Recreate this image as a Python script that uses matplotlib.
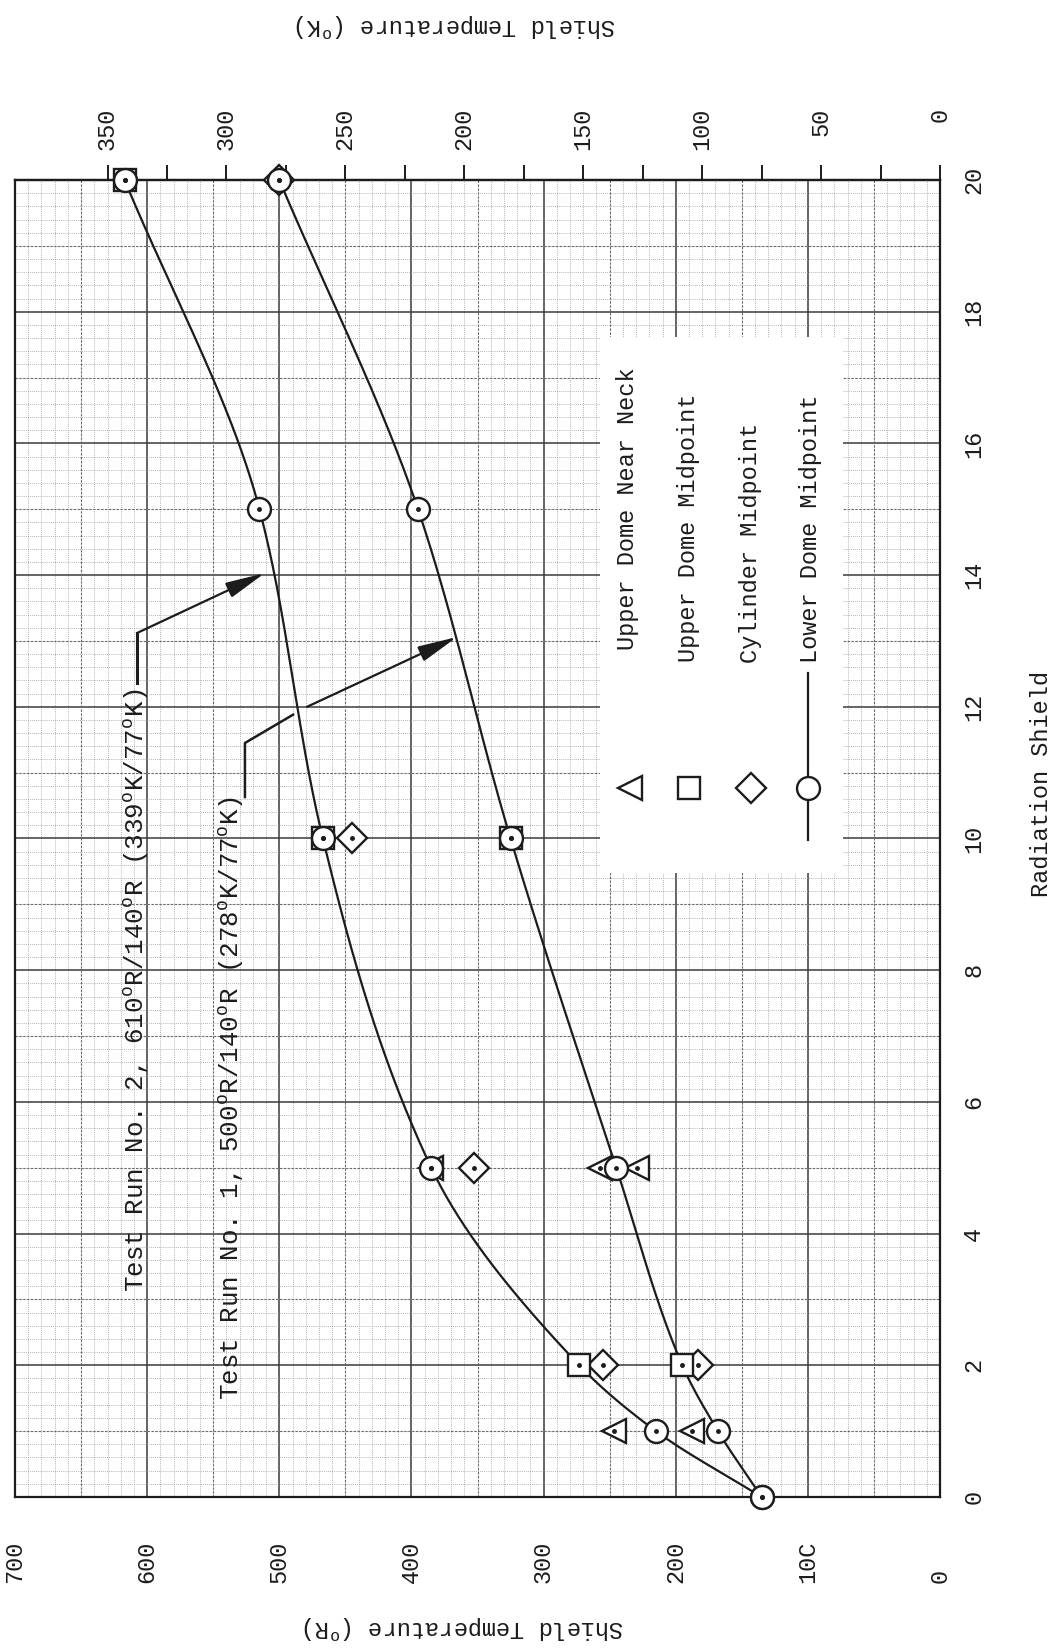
import numpy as np
import matplotlib
matplotlib.use("Agg")
from matplotlib import pyplot as plt
from matplotlib.patches import Rectangle

# values (shield number vs temperature in deg R)
shield_pts = [0, 1, 2, 5, 10, 15, 20]
run2_curve = [135, 215, 273, 385, 467, 515, 617]
run1_curve = [135, 168, 195, 245, 325, 395, 500]

# run 2 (610R/140R) measured points
run2_neck_s = [1, 5]
run2_neck_T = [247, 385]
run2_udome_s = [2, 10, 20]
run2_udome_T = [273, 467, 617]
run2_cyl_s = [2, 5, 10]
run2_cyl_T = [255, 353, 445]
run2_ldome_s = [0, 1, 5, 10, 15, 20]
run2_ldome_T = [135, 215, 385, 467, 515, 617]

# run 1 (500R/140R) measured points
run1_neck_s = [1, 5, 5]
run1_neck_T = [188, 257, 229]
run1_udome_s = [2, 10]
run1_udome_T = [195, 325]
run1_cyl_s = [2, 20]
run1_cyl_T = [183, 500]
run1_ldome_s = [0, 1, 5, 10, 15, 20]
run1_ldome_T = [135, 168, 245, 325, 395, 500]

R_ticks = [0, 100, 200, 300, 400, 500, 600, 700]
R_labels = ["0", "10C", "200", "300", "400", "500", "600", "700"]
K_ticks = list(range(0, 351, 25))
shield_ticks = list(range(0, 21, 2))

legend_names = ["Upper Dome Near Neck", "Upper Dome Midpoint",
                "Cylinder Midpoint", "Lower Dome Midpoint"]

run2_text = r"Test Run No. 2, 610$^{\mathrm{o}}$R/140$^{\mathrm{o}}$R (339$^{\mathrm{o}}$K/77$^{\mathrm{o}}$K)"
run1_text = r"Test Run No. 1, 500$^{\mathrm{o}}$R/140$^{\mathrm{o}}$R (278$^{\mathrm{o}}$K/77$^{\mathrm{o}}$K)"

INK = "#1c1c1c"
FS = 17

plt.rcParams["font.family"] = ["Liberation Mono", "DejaVu Sans Mono"]
plt.rcParams["mathtext.fontset"] = "custom"
plt.rcParams["mathtext.rm"] = "Liberation Mono"
plt.rcParams["mathtext.it"] = "Liberation Mono"
plt.rcParams["text.color"] = INK


def pchip(x, y, xs):
    # monotone cubic, only used to draw the hand-drawn looking curve
    x = np.asarray(x, float)
    y = np.asarray(y, float)
    h = np.diff(x)
    d = np.diff(y) / h
    m = np.zeros_like(y)
    for k in range(1, len(x) - 1):
        if d[k - 1] * d[k] > 0:
            w1 = 2 * h[k] + h[k - 1]
            w2 = h[k] + 2 * h[k - 1]
            m[k] = (w1 + w2) / (w1 / d[k - 1] + w2 / d[k])
    m[0] = d[0]
    m[-1] = d[-1]
    out = []
    for v in xs:
        k = min(np.searchsorted(x, v, side="right") - 1, len(x) - 2)
        t = (v - x[k]) / h[k]
        h00 = 2 * t**3 - 3 * t**2 + 1
        h10 = t**3 - 2 * t**2 + t
        h01 = -2 * t**3 + 3 * t**2
        h11 = t**3 - t**2
        out.append(h00 * y[k] + h10 * h[k] * m[k] + h01 * y[k + 1] + h11 * h[k] * m[k + 1])
    return np.array(out)


fig = plt.figure(figsize=(10.6, 16.5), dpi=100)
ax = fig.add_axes([15 / 1060, 1 - 1497 / 1650, 925 / 1060, 1317 / 1650])
ax.set_xlim(700, 0)
ax.set_ylim(0, 20)
ax.set_axisbelow(True)

# graph paper
ax.set_xticks(np.arange(0, 701, 10), minor=True)
ax.set_yticks(np.arange(0, 20.01, 0.2), minor=True)
ax.grid(which="minor", color="#9a9a9a", lw=0.6, ls=(0, (1, 1.5)))
ax.grid(which="major", color="#3a3a3a", lw=1.1, ls="-")
for v in np.arange(50, 700, 100):
    ax.axvline(v, color="#6a6a6a", lw=0.8, ls=(0, (2, 1.5)), zorder=0.6)
for v in np.arange(1, 20, 2):
    ax.axhline(v, color="#6a6a6a", lw=0.8, ls=(0, (2, 1.5)), zorder=0.6)

for sp in ax.spines.values():
    sp.set_linewidth(1.6)
    sp.set_color(INK)

# bottom deg R labels
ax.set_xticks(R_ticks)
ax.set_xticklabels(R_labels, rotation=90, va="bottom", fontsize=FS)
ax.tick_params(axis="x", which="both", length=0, pad=62, colors=INK)

# right shield labels
ax.yaxis.tick_right()
ax.set_yticks(shield_ticks)
ax.set_yticklabels([str(v) for v in shield_ticks], rotation=90, va="center", fontsize=FS)
ax.tick_params(axis="y", which="both", length=0, pad=16, colors=INK)

# top deg K axis
secax = ax.secondary_xaxis("top", functions=(lambda r: r / 1.8, lambda k: k * 1.8))
secax.set_xticks(K_ticks)
secax.set_xticklabels([str(k) if k % 50 == 0 else "" for k in K_ticks],
                      rotation=90, va="top", fontsize=FS)
secax.tick_params(axis="x", length=10.8, width=1.4, direction="out", pad=41, colors=INK)
secax.spines["top"].set_linewidth(1.6)

# curves
s_dense = np.linspace(0, 20, 400)
for curve in (run2_curve, run1_curve):
    ax.plot(pchip(shield_pts, curve, s_dense), s_dense, color=INK, lw=1.6, zorder=3)

mk = dict(mfc="white", mec=INK, mew=1.7, ls="none", clip_on=False)
for cs, cT, ns, nT in ((run2_cyl_s, run2_cyl_T, run2_neck_s, run2_neck_T),
                       (run1_cyl_s, run1_cyl_T, run1_neck_s, run1_neck_T)):
    ax.plot(cT, cs, marker="D", ms=15.5, zorder=4, **mk)
    ax.plot(nT, ns, marker="<", ms=17, zorder=4.2, **mk)
for us, uT in ((run2_udome_s, run2_udome_T), (run1_udome_s, run1_udome_T)):
    ax.plot(uT, us, marker="s", ms=16.5, zorder=5, **mk)
for ls_, lT in ((run2_ldome_s, run2_ldome_T), (run1_ldome_s, run1_ldome_T)):
    ax.plot(lT, ls_, marker="o", ms=16.5, zorder=6, **mk)

all_T = run2_neck_T + run2_udome_T + run2_cyl_T + run2_ldome_T + run1_neck_T + run1_udome_T + run1_cyl_T + run1_ldome_T
all_s = run2_neck_s + run2_udome_s + run2_cyl_s + run2_ldome_s + run1_neck_s + run1_udome_s + run1_cyl_s + run1_ldome_s
ax.plot(all_T, all_s, ls="none", marker="o", ms=2.5, color=INK, zorder=7, clip_on=False)

# run labels and arrows
ax.text(608, 3.11, run2_text, rotation=90, ha="center", va="bottom", fontsize=18.6)
ax.text(536, 1.47, run1_text, rotation=90, ha="center", va="bottom", fontsize=18.6)

arrow = dict(arrowstyle="-|>,head_length=1.1,head_width=0.22", color=INK, lw=1.6,
             mutation_scale=22, shrinkA=0, shrinkB=0)
ax.plot([607.7, 607.7], [12.36, 13.12], color=INK, lw=2.2, zorder=3)
ax.annotate("", xy=(511, 14.03), xytext=(607.7, 13.12), arrowprops=arrow, zorder=3)
ax.plot([526, 526, 489.6], [10.63, 11.45, 11.88], color=INK, lw=1.8, zorder=3)
ax.annotate("", xy=(365.5, 13.06), xytext=(479, 12.0), arrowprops=arrow, zorder=3)

# legend (drawn by hand, rotated like the page)
ax.add_patch(Rectangle((0.6324, 0.4738), 0.8951 - 0.6324, 0.8808 - 0.4738,
                       transform=ax.transAxes, facecolor="white", edgecolor="none", zorder=2))
leg_x = [0.6649, 0.7286, 0.7957, 0.8573]
leg_tx = [0.6627, 0.7276, 0.7946, 0.8595]
leg_ty = [0.6431, 0.6340, 0.6333, 0.6333]
leg_mk = ["<", "s", "D", "o"]
leg_ms = [17, 16.5, 15.5, 16.5]
ax.plot([leg_x[3], leg_x[3]], [0.4989, 0.6257], color=INK, lw=1.6, transform=ax.transAxes, zorder=3)
for i in range(4):
    ax.plot([leg_x[i]], [0.5383], marker=leg_mk[i], ms=leg_ms[i], transform=ax.transAxes,
            mfc="white", mec=INK, mew=1.7, zorder=4)
    ax.text(leg_tx[i], leg_ty[i], legend_names[i], rotation=90, ha="center", va="bottom",
            fontsize=FS, transform=ax.transAxes, zorder=4)

# axis titles
fig.text(464 / 1060, 1 - 1627 / 1650, r"Shield Temperature ($^{\mathrm{o}}$R)",
         rotation=180, ha="center", va="center", fontsize=FS)
fig.text(456 / 1060, 1 - 25 / 1650, r"Shield Temperature ($^{\mathrm{o}}$K)",
         rotation=180, ha="center", va="center", fontsize=FS)
fig.text(1042 / 1060, 1 - 784 / 1650, "Radiation Shield",
         rotation=90, ha="center", va="center", fontsize=FS)

fig.savefig("out.png", dpi=100)
